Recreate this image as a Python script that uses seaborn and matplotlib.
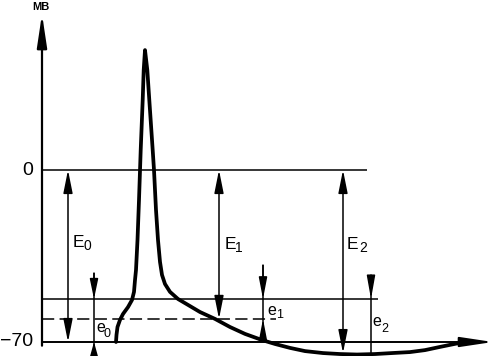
import matplotlib
matplotlib.use("Agg")
import matplotlib.pyplot as plt
import seaborn as sns
import pandas as pd

# ---- data (time in arbitrary units, membrane potential in mV) ----
ap_time = [74, 74.5, 75.5, 78, 81, 86, 90, 92, 93, 94, 95.5, 97, 98.7, 100.7, 101.7, 103,
           105.3, 107.3, 110.7, 112, 114, 116, 118, 120, 123, 128, 136, 146, 158, 173, 188,
           203, 220, 233, 248, 263, 281, 298, 315, 333, 350, 368, 383, 398, 410, 420, 430]
ap_mv = [-70, -67.1, -63.9, -61.0, -58.6, -55.8, -52.9, -49.6, -44.8, -40.7, -28.5, -12.2,
         8.1, 28.5, 40.7, 48.8,
         40.7, 28.5, 8.1, 0.0, -16.3, -28.5, -37.4, -42.7, -46.4, -49.6, -52.5, -54.9, -57.8,
         -60.6, -63.9, -66.7, -69.2, -70.8, -72.4, -73.7, -74.5, -74.9, -75.1, -74.9, -74.5,
         -74.1, -73.3, -72.0, -71.0, -70.2, -70.0]

level_names = ["zero", "rest", "threshold", "critical", "trough"]
level_mv = [0.0, -70.0, -52.5, -60.6, -74.5]

marker_names = ["E0", "e0", "E1", "e1", "E2", "e2"]
marker_time = [26, 52, 177, 221, 301, 329]

tick_labels = ["0", "\u221270"]
tick_values = [0.0, -70.0]

# ---- figure ----
sns.set_theme(style="white")
plt.rcParams["font.family"] = ["Liberation Sans", "DejaVu Sans"]

W, H = 496, 356
fig = plt.figure(figsize=(W / 100, H / 100), dpi=100)
ax = fig.add_axes([0, 0, 1, 1])


def P(px, py):
    return px - 42, (170 - py) * 70 / 172


lv = dict(zip(level_names, level_mv))
mt = dict(zip(marker_names, marker_time))
k = "black"
thin = 1.1


def arrow(x0, y0, x1, y1, style="-|>", hl=1.4, hw=0.28, lw=thin):
    ax.annotate("", xy=(x1, y1), xytext=(x0, y0),
                arrowprops=dict(arrowstyle=f"{style},head_length={hl},head_width={hw}",
                                mutation_scale=10, lw=lw, color=k,
                                shrinkA=0, shrinkB=0))


# action potential trace
df = pd.DataFrame({"t": ap_time, "mv": ap_mv})
sns.lineplot(data=df, x="t", y="mv", sort=False, estimator=None, ax=ax,
             color=k, lw=2.7, solid_joinstyle="round", solid_capstyle="round", zorder=5)
ax.set_xlim(-42, W - 42)
ax.set_ylim((170 - H) * 70 / 172, 170 * 70 / 172)
ax.axis("off")

# horizontal reference lines
ax.hlines(lv["zero"], 0, 325, color=k, lw=thin)
ax.hlines(lv["threshold"], 0, 336, color=k, lw=thin)
ax.hlines(lv["critical"], 0, 234, color=k, lw=thin, linestyles=(0, (8, 3.5)))

# axes with arrows
arrow(0, lv["rest"], 451, lv["rest"], hl=2.0, hw=0.3, lw=1.4)
arrow(0, -71.5, 0, P(0, 14)[1], hl=2.0, hw=0.3, lw=1.6)

# big measuring arrows
arrow(mt["E0"], lv["zero"], mt["E0"], lv["rest"], style="<|-|>")
arrow(mt["E1"], lv["zero"], mt["E1"], lv["critical"], style="<|-|>")
arrow(mt["E2"], lv["zero"], mt["E2"], lv["trough"], style="<|-|>")

# small measuring arrows
# e0
ax.vlines(mt["e0"], P(0, 356)[1], P(0, 273)[1], color=k, lw=thin)
arrow(mt["e0"], P(0, 273)[1], mt["e0"], lv["threshold"], hl=1.2, hw=0.25)
arrow(mt["e0"], P(0, 356)[1], mt["e0"], lv["rest"], hl=0.9, hw=0.25)
# e1
ax.vlines(mt["e1"], P(0, 340)[1], P(0, 265)[1], color=k, lw=thin)
arrow(mt["e1"], P(0, 265)[1], mt["e1"], lv["threshold"], hl=1.3, hw=0.25)
arrow(mt["e1"], P(0, 340)[1], mt["e1"], lv["critical"], hl=1.3, hw=0.25)
# e2
ax.vlines(mt["e2"], lv["trough"], P(0, 275)[1], color=k, lw=thin)
arrow(mt["e2"], P(0, 275)[1], mt["e2"], lv["threshold"], hl=1.4, hw=0.25)

# tick labels
for lab, val in zip(tick_labels, tick_values):
    ax.text(-9, val, lab, ha="right", va="center", fontsize=14, color=k)

# unit label
ax.text(*P(41, 10.5), "МВ", ha="center", va="baseline", fontsize=8,
        fontweight="bold", color=k)

# E labels (letter + subscript)
big = [("E", "0", 73, 247, 84, 250), ("E", "1", 225, 249, 235, 252),
       ("E", "2", 347, 249, 359, 252)]
for L, s, x, y, sx, sy in big:
    ax.text(*P(x, y), L, ha="left", va="baseline", fontsize=12.5, color=k)
    ax.text(*P(sx, sy), s, ha="left", va="baseline", fontsize=10, color=k)

small = [("e", "0", 96.5, 332, 104, 337), ("e", "1", 267.5, 315, 276.5, 318),
         ("e", "2", 372.5, 326, 381.5, 331.5)]
for L, s, x, y, sx, sy in small:
    ax.text(*P(x, y), L, ha="left", va="baseline", fontsize=11.5, color=k)
    ax.text(*P(sx, sy), s, ha="left", va="baseline", fontsize=9, color=k)

fig.savefig("out.png", dpi=100)
